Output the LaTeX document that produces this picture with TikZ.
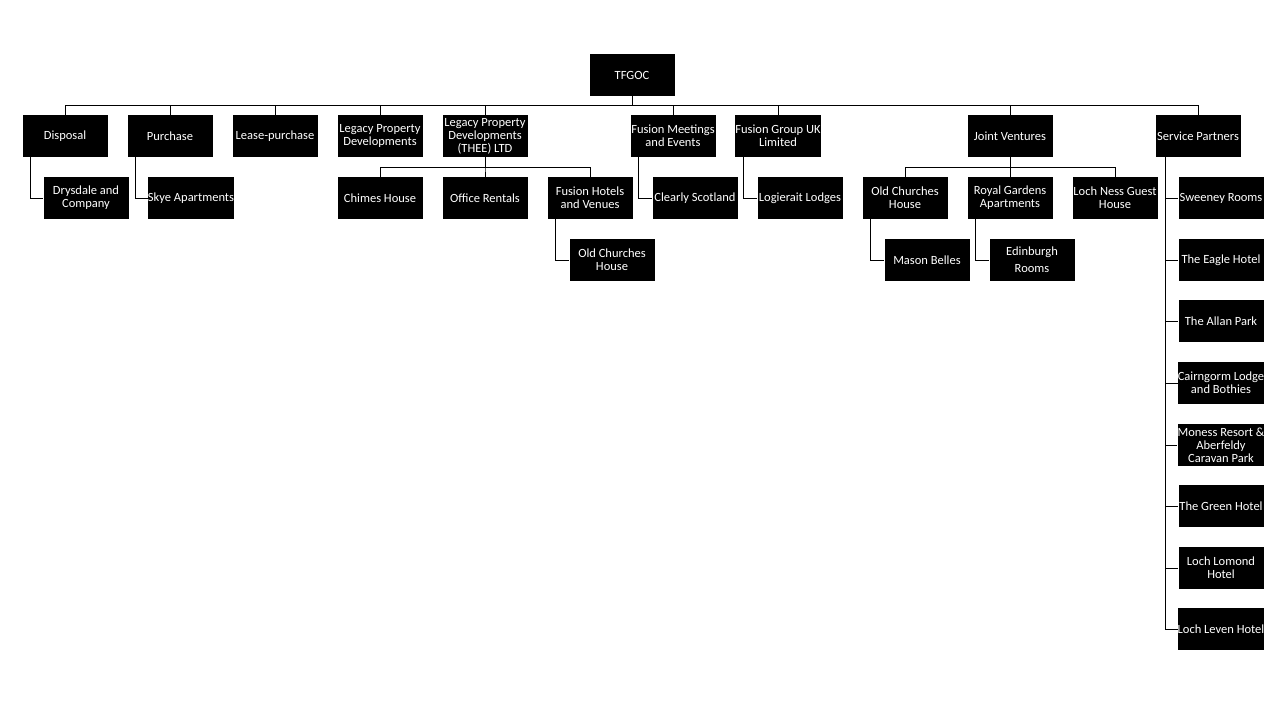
\documentclass[tikz,border=0pt]{standalone}
\usepackage{fontspec}
\setmainfont{Carlito}
\usepackage{tikz}

\tikzset{
  unit/.style={fill=black, text=white, minimum width=85pt, minimum height=42pt,
    inner sep=0pt, align=center, font=\fontsize{12.5}{13}\selectfont},
  link/.style={draw=black, line width=0.9pt}
}

\begin{document}
\begin{tikzpicture}[x=1pt,y=1pt]
      % Page area
      \fill[white] (0,0) rectangle (1280,-720);
      \useasboundingbox (0,0) rectangle (1280,-720);

      % Top of the chart
      \node[unit] (tfgoc) at (632,-75) {TFGOC};

      % First level
      \node[unit] (disposal) at (65,-136) {Disposal};
      \node[unit] (purchase) at (170,-136) {Purchase};
      \node[unit] (lease) at (275,-136) {Lease-purchase};
      \node[unit] (legacy) at (380,-136) {Legacy Property\\Developments};
      \node[unit] (thee) at (485,-136) {Legacy Property\\Developments\\(THEE) LTD};
      \node[unit] (meetings) at (673,-136) {Fusion Meetings\\and Events};
      \node[unit] (groupuk) at (778,-136) {Fusion Group UK\\Limited};
      \node[unit] (joint) at (1010,-136) {Joint Ventures};
      \node[unit] (partners) at (1198,-136) {Service Partners};

      % Second level
      \node[unit] (drysdale) at (86,-198) {Drysdale and\\Company};
      \node[unit] (skye) at (191,-198) {Skye Apartments};
      \node[unit] (chimes) at (380,-198) {Chimes House};
      \node[unit] (office) at (485,-198) {Office Rentals};
      \node[unit] (hotels) at (590,-198) {Fusion Hotels\\and Venues};
      \node[unit] (clearly) at (695,-198) {Clearly Scotland};
      \node[unit] (logierait) at (800,-198) {Logierait Lodges};
      \node[unit] (churchesjv) at (905,-198) {Old Churches\\House};
      \node[unit] (royal) at (1010,-198) {Royal Gardens\\Apartments};
      \node[unit] (lochness) at (1115,-198) {Loch Ness Guest\\House};

      % Third level
      \node[unit] (churches) at (612,-260) {Old Churches\\House};
      \node[unit] (mason) at (927,-260) {Mason Belles};
      \node[unit] (edinburgh) at (1032,-260) {Edinburgh\\[4pt]Rooms};

      % Service partners column
      \node[unit] (sweeney) at (1221,-198) {Sweeney Rooms};
      \node[unit] (eagle) at (1221,-260) {The Eagle Hotel};
      \node[unit] (allan) at (1221,-321) {The Allan Park};
      \node[unit] (cairngorm) at (1221,-383) {Cairngorm Lodge\\and Bothies};
      \node[unit] (moness) at (1221,-445) {Moness Resort \&\\Aberfeldy\\Caravan Park};
      \node[unit] (green) at (1221,-506) {The Green Hotel};
      \node[unit] (lomond) at (1221,-568) {Loch Lomond\\Hotel};
      \node[unit] (leven) at (1221,-629) {Loch Leven Hotel};

      % Connectors from the top
      \foreach \child in {disposal,purchase,lease,legacy,thee,meetings,groupuk,joint,partners}
        \draw[link] (tfgoc.south) -- ++(0,-9) -| (\child.north);

      % Connectors below (THEE) LTD and Joint Ventures
      \foreach \child in {chimes,office,hotels}
        \draw[link] (thee.south) -- ++(0,-10) -| (\child.north);
      \foreach \child in {churchesjv,royal,lochness}
        \draw[link] (joint.south) -- ++(0,-10) -| (\child.north);

      % Side connectors
      \draw[link] ([xshift=8.5pt]disposal.south west) |- (drysdale.west);
      \draw[link] ([xshift=8.5pt]purchase.south west) |- (skye.west);
      \draw[link] ([xshift=8.5pt]meetings.south west) |- (clearly.west);
      \draw[link] ([xshift=8.5pt]groupuk.south west) |- (logierait.west);
      \draw[link] ([xshift=8.5pt]hotels.south west) |- (churches.west);
      \draw[link] ([xshift=8.5pt]churchesjv.south west) |- (mason.west);
      \draw[link] ([xshift=8.5pt]royal.south west) |- (edinburgh.west);
      \foreach \child in {sweeney,eagle,allan,cairngorm,moness,green,lomond,leven}
        \draw[link] ([xshift=10pt]partners.south west) |- (\child.west);
\end{tikzpicture}
\end{document}
